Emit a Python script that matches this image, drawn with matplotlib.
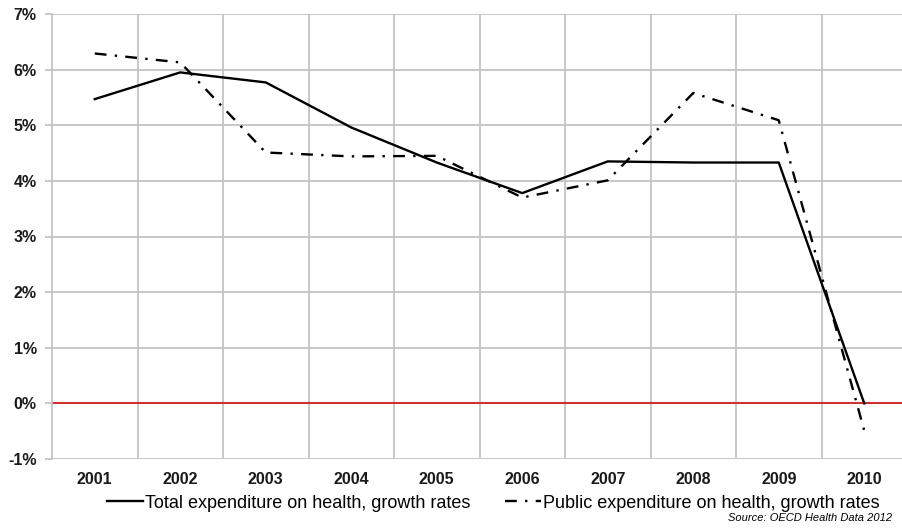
import matplotlib
matplotlib.use("Agg")
import matplotlib.pyplot as plt
from matplotlib.ticker import FuncFormatter, FixedLocator

plt.rcParams['font.family'] = ['Liberation Sans', 'DejaVu Sans']

years = ["2001", "2002", "2003", "2004", "2005", "2006", "2007", "2008", "2009", "2010"]
total_growth = [5.47, 5.95, 5.77, 4.96, 4.33, 3.78, 4.35, 4.33, 4.33, 0.0]
public_growth = [6.29, 6.13, 4.51, 4.44, 4.45, 3.70, 4.01, 5.58, 5.09, -0.49]
y_ticks = [-1, 0, 1, 2, 3, 4, 5, 6, 7]

W, H = 902, 528
fig = plt.figure(figsize=(W / 100, H / 100), dpi=100)
left, top, bottom = 52 / W, 1 - 14 / H, 1 - 459 / H
width = 855 / W
ax = fig.add_axes([left, bottom, width, top - bottom])

x = list(range(len(years)))
grid_c = "#c4c4c4"

ax.set_xlim(-0.5, len(years) - 0.5)
ax.set_ylim(-1, 7)

# horizontal grid on major y ticks, vertical grid on category boundaries
ax.yaxis.set_major_locator(FixedLocator(y_ticks))
ax.yaxis.set_major_formatter(FuncFormatter(lambda v, p: f"{int(v)}%"))
ax.set_xticks(x)
ax.set_xticklabels(years)
ax.set_xticks([i + 0.5 for i in range(len(years) - 1)], minor=True)
ax.grid(axis="y", which="major", color=grid_c, lw=1.3)
ax.grid(axis="x", which="minor", color=grid_c, lw=1.3)

for s in ["top", "right", "bottom"]:
    ax.spines[s].set_visible(False)
ax.spines["left"].set_color(grid_c)
ax.spines["left"].set_linewidth(1.3)

ax.tick_params(axis="y", length=5, color=grid_c, width=1.3, labelsize=11.5, pad=6)
ax.tick_params(axis="x", which="both", length=0, labelsize=11.5, pad=9)
for lab in ax.get_xticklabels() + ax.get_yticklabels():
    lab.set_fontweight("bold")
    lab.set_color("#1a1a1a")

ax.axhline(0, color="#d03030", lw=1.5, zorder=2)

l1, = ax.plot(x, total_growth, color="black", lw=1.7, solid_joinstyle="round",
              zorder=3, label="Total expenditure on health, growth rates")
l2, = ax.plot(x, public_growth, color="black", lw=1.7, linestyle=(0, (5, 3.5, 1, 3.5)),
              zorder=3, label="Public expenditure on health, growth rates")

fig.legend(handles=[l1, l2], loc="center", bbox_to_anchor=(0.547, 1 - 503 / H),
           ncol=2, frameon=False, fontsize=13, handlelength=2.0, handletextpad=0.1,
           columnspacing=1.9, borderpad=0)

fig.text(892 / W, 1 - 518 / H, "Source: OECD Health Data 2012", ha="right", va="center",
         fontsize=8, style="italic")

fig.savefig("out.png", dpi=100)
